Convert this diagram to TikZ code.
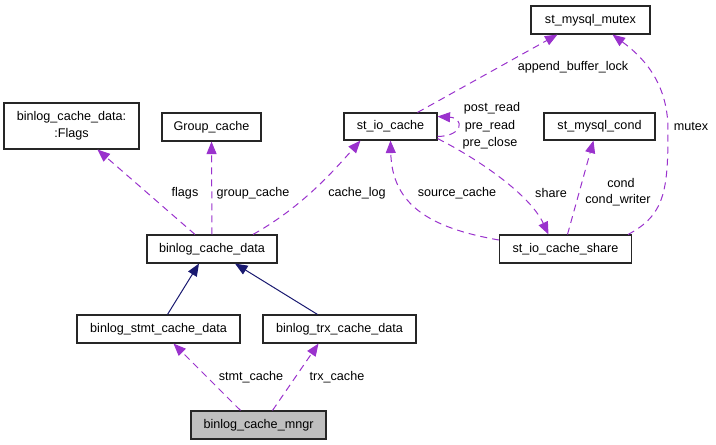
\documentclass[tikz,border=0pt]{standalone}
\usepackage{fontspec}
\setmainfont{Liberation Sans}
\usetikzlibrary{arrows.meta,calc}
\definecolor{relpurple}{HTML}{9A32CD}
\definecolor{inhblue}{HTML}{191970}
\definecolor{curfill}{HTML}{BFBFBF}
\tikzset{
  box/.style={draw=black!85, line width=1.1pt, inner sep=0pt, align=center, font=\fontsize{12.6}{17}\selectfont},
  lbl/.style={inner sep=0pt, font=\fontsize{12.6}{15}\selectfont},
  uses/.style={draw=relpurple, line width=1pt, dash pattern=on 7pt off 5pt, -{Triangle[length=12.5pt,width=10pt,fill=relpurple]}},
  inherits/.style={draw=inhblue, line width=1pt, -{Triangle[length=12.5pt,width=10pt,fill=inhblue]}}
}
\begin{document}
\begin{tikzpicture}[x=1pt,y=-1pt]
\useasboundingbox (0,0) rectangle (716,445);
% nodes
\node[box, minimum width=119pt, minimum height=28pt] (mutex) at (590.5,20) {st\_mysql\_mutex};
\node[box, minimum width=93pt, minimum height=27pt] (iocache) at (390.5,126.5) {st\_io\_cache};
\node[box, minimum width=111pt, minimum height=27pt] (cond) at (599.5,126.5) {st\_mysql\_cond};
\node[box, minimum width=132pt, minimum height=28pt] (share) at (565.5,249) {st\_io\_cache\_share};
\node[box, minimum width=135pt, minimum height=46pt] (flags) at (71.5,126) {binlog\_cache\_data:\\:Flags};
\node[box, minimum width=99pt, minimum height=28pt] (group) at (211.5,127) {Group\_cache};
\node[box, minimum width=130pt, minimum height=28pt] (bcd) at (212,249) {binlog\_cache\_data};
\node[box, minimum width=163pt, minimum height=28pt] (stmt) at (158.5,329) {binlog\_stmt\_cache\_data};
\node[box, minimum width=153pt, minimum height=28pt] (trx) at (339.5,329) {binlog\_trx\_cache\_data};
\node[box, fill=curfill, minimum width=135pt, minimum height=28pt] (mngr) at (258.5,425) {binlog\_cache\_mngr};
% edges
\draw[uses] ($(mngr.north)+(-18,0)$) -- ($(stmt.south)+(15,0)$);
\draw[uses] ($(mngr.north)+(14,0)$) -- ($(trx.south)+(-21,0)$);
\draw[inherits] ($(stmt.north)+(9,0)$) -- ($(bcd.south)+(-13,0)$);
\draw[inherits] ($(trx.north)+(-22,0)$) -- ($(bcd.south)+(23,0)$);
\draw[uses] ($(bcd.north)+(-17,0)$) -- ($(flags.south)+(26,0)$);
\draw[uses] (bcd.north) -- (group.south);
\draw[uses] ($(bcd.north)+(41,0)$) .. controls (300,208) and (330,175) .. ($(iocache.south)+(-30,0)$);
\draw[uses] ($(share.west)+(0,-9)$) .. controls (430,228) and (392,205) .. (iocache.south);
\draw[uses] ($(iocache.south east)+(0,-2)$) .. controls (480,160) and (530,195) .. ($(share.north)+(-17,0)$);
\draw[uses] ($(share.north)+(2,0)$) -- ($(cond.south)+(-6,0)$);
\draw[uses] ($(share.north east)+(-4,0)$) .. controls (665,215) and (668,190) .. (668,130) .. controls (668,80) and (640,55) .. ($(mutex.south)+(22,0)$);
\draw[uses] ($(iocache.north)+(27,0)$) -- ($(mutex.south)+(-33,0)$);
\draw[uses] ($(iocache.east)+(0,10)$) .. controls (464,136) and (464,118) .. ($(iocache.east)+(0,-10)$);
% labels
\node[lbl] (l1) at (573,67) {append\_buffer\_lock};
\node[lbl] (l2) at (492,108) {post\_read};
\node[lbl] (l3) at (490,126) {pre\_read};
\node[lbl] (l4) at (490,143) {pre\_close};
\node[lbl] (l5) at (691,126) {mutex};
\node[lbl] (l6) at (621,183) {cond};
\node[lbl] (l7) at (618,200) {cond\_writer};
\node[lbl] (l8) at (551,193) {share};
\node[lbl] (l9) at (457,193) {source\_cache};
\node[lbl] (l10) at (357,193) {cache\_log};
\node[lbl] (l11) at (185,193) {flags};
\node[lbl] (l12) at (253,193) {group\_cache};
\node[lbl] (l13) at (251,377) {stmt\_cache};
\node[lbl] (l14) at (337,377) {trx\_cache};
\end{tikzpicture}
\end{document}
